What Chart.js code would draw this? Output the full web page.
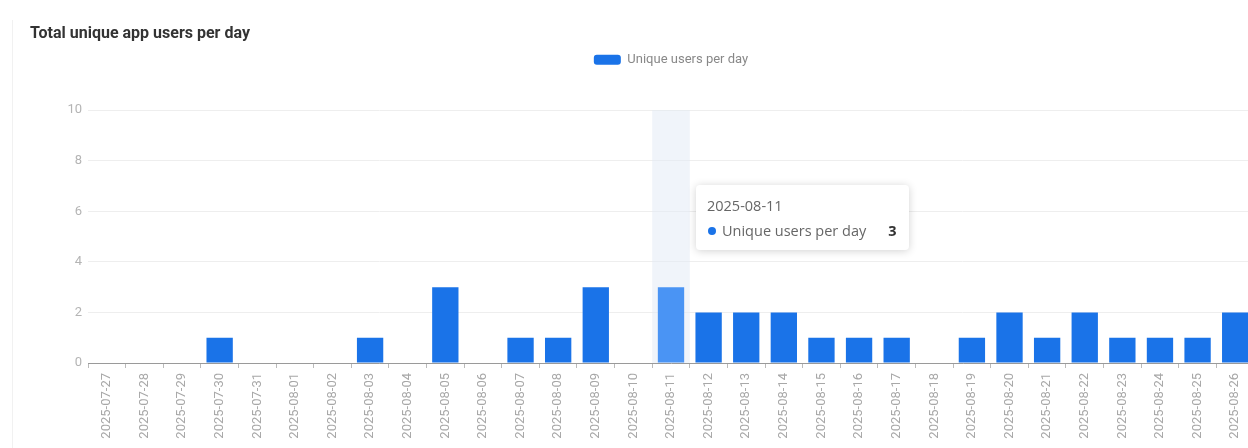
<!DOCTYPE html>
<html>
  <head>
    <title>Unique app users</title>
    <style>
      body {
        margin: 0;
        overflow: hidden;
        background: #fff;
        font-family: Roboto, "Noto Sans", sans-serif;
      }
      #wrap {
        position: relative;
        width: 1290px;
        height: 448px;
      }
      #edge {
        position: absolute;
        left: 12px;
        top: 20px;
        bottom: 0;
        border-left: 1px solid #f1f1f1;
      }
      #tip {
        position: absolute;
        display: none;
        background: #fff;
        border-radius: 4px;
        box-shadow: 0 1px 8px rgba(0, 0, 0, 0.18);
        padding: 12px 12px 10px 11px;
        font-family: "Open Sans", "Noto Sans", sans-serif;
        font-size: 14.5px;
        line-height: 18px;
        color: #666;
        pointer-events: none;
        white-space: nowrap;
      }
      #tip .row {
        display: flex;
        align-items: center;
        margin-top: 7px;
      }
      #tip .dot {
        width: 8px;
        height: 8px;
        border-radius: 50%;
        background: #1a73e8;
        margin: 0 6px 0 1px;
      }
      #tip .val {
        margin-left: 22px;
        font-weight: bold;
        color: #333;
      }
    </style>
  </head>
  <body>
    <div id="wrap">
      <div id="edge"></div>
      <canvas id="usersChart"></canvas>
      <div id="tip"></div>
    </div>

    <script src="https://cdn.jsdelivr.net/npm/chart.js"></script>
    <script>
      const days = [
        "2025-07-27", "2025-07-28", "2025-07-29", "2025-07-30", "2025-07-31",
        "2025-08-01", "2025-08-02", "2025-08-03", "2025-08-04", "2025-08-05",
        "2025-08-06", "2025-08-07", "2025-08-08", "2025-08-09", "2025-08-10",
        "2025-08-11", "2025-08-12", "2025-08-13", "2025-08-14", "2025-08-15",
        "2025-08-16", "2025-08-17", "2025-08-18", "2025-08-19", "2025-08-20",
        "2025-08-21", "2025-08-22", "2025-08-23", "2025-08-24", "2025-08-25",
        "2025-08-26",
      ];
      const uniqueUsers = [
        0, 0, 0, 1, 0,
        0, 0, 1, 0, 3,
        0, 1, 1, 3, 0,
        3, 2, 2, 2, 1,
        1, 1, 0, 1, 2,
        1, 2, 1, 1, 1,
        2,
      ];
      const yTicks = [0, 2, 4, 6, 8, 10];
      const seriesName = "Unique users per day";
      const focusDay = "2025-08-11";

      const barBlue = "#1a73e8";
      const barHover = "#4a94f4";

      // light band behind the hovered day
      const hoverBand = {
        id: "hoverBand",
        beforeDatasetsDraw(chart) {
          const active = chart.getActiveElements();
          if (!active.length) return;
          const x = chart.scales.x;
          const w = x.getPixelForValue(1) - x.getPixelForValue(0);
          const area = chart.chartArea;
          const ctx = chart.ctx;
          ctx.save();
          ctx.fillStyle = "rgba(225, 234, 246, 0.5)";
          active.forEach((a) => {
            const cx = x.getPixelForValue(a.index);
            ctx.fillRect(cx - w / 2, area.top, w, area.bottom - area.top);
          });
          ctx.restore();
        },
      };

      // extra gap under the legend
      const legendGap = {
        id: "legendGap",
        beforeInit(chart) {
          const fit = chart.legend.fit;
          chart.legend.fit = function () {
            fit.bind(chart.legend)();
            this.height += 34;
          };
        },
      };

      function drawTip(context) {
        const tip = document.getElementById("tip");
        const t = context.tooltip;
        if (t.opacity === 0 || !t.dataPoints || !t.dataPoints.length) {
          tip.style.display = "none";
          return;
        }
        const p = t.dataPoints[0];
        tip.innerHTML =
          "<div>" + p.label + "</div>" +
          '<div class="row"><span class="dot"></span><span>' +
          p.dataset.label + '</span><span class="val">' + p.formattedValue +
          "</span></div>";
        tip.style.display = "block";
        tip.style.left = p.element.x + 25 + "px";
        tip.style.top = p.element.y - 102 + "px";
      }

      const ctx = document.getElementById("usersChart").getContext("2d");
      const chart = new Chart(ctx, {
        type: "bar",
        data: {
          labels: days,
          datasets: [
            {
              label: seriesName,
              data: uniqueUsers,
              backgroundColor: barBlue,
              hoverBackgroundColor: barHover,
              borderWidth: 0,
              barPercentage: 0.7,
              categoryPercentage: 1,
            },
          ],
        },
        options: {
          responsive: true,
          maintainAspectRatio: false,
          animation: false,
          events: [],
          layout: {
            padding: { top: 24, left: 30, right: 36, bottom: 0 },
          },
          plugins: {
            title: {
              display: true,
              text: "Total unique app users per day",
              align: "start",
              color: "#333",
              font: { family: "Roboto", size: 16, weight: "bold" },
              padding: { top: 0, bottom: 0 },
            },
            legend: {
              display: true,
              fullSize: false,
              labels: {
                boxWidth: 27,
                boxHeight: 10,
                useBorderRadius: true,
                borderRadius: 3,
                color: "#888",
                font: { family: "Roboto", size: 13 },
                padding: 10,
              },
            },
            tooltip: {
              enabled: false,
              external: drawTip,
            },
          },
          scales: {
            x: {
              offset: true,
              grid: {
                drawOnChartArea: false,
                drawTicks: true,
                tickLength: 5,
                color: "#bbb",
                offset: true,
              },
              border: { color: "#9a9a9a" },
              ticks: {
                autoSkip: false,
                minRotation: 90,
                maxRotation: 90,
                padding: 5,
                color: "#a8a8a8",
                font: { family: "Roboto", size: 13 },
              },
              afterFit(scale) {
                scale.height = 85;
              },
            },
            y: {
              min: 0,
              max: 10,
              afterBuildTicks(scale) {
                scale.ticks = yTicks.map((v) => ({ value: v }));
              },
              grid: { color: "#eeeeee", drawTicks: false },
              border: { display: false },
              ticks: {
                padding: 6,
                color: "#b4b4b4",
                font: { family: "Roboto", size: 13 },
              },
              afterFit(scale) {
                scale.width = 58;
              },
            },
          },
        },
        plugins: [hoverBand, legendGap],
      });

      const focus = [{ datasetIndex: 0, index: days.indexOf(focusDay) }];
      chart.setActiveElements(focus);
      chart.tooltip.setActiveElements(focus, { x: 0, y: 0 });
      chart.update();
    </script>
  </body>
</html>
